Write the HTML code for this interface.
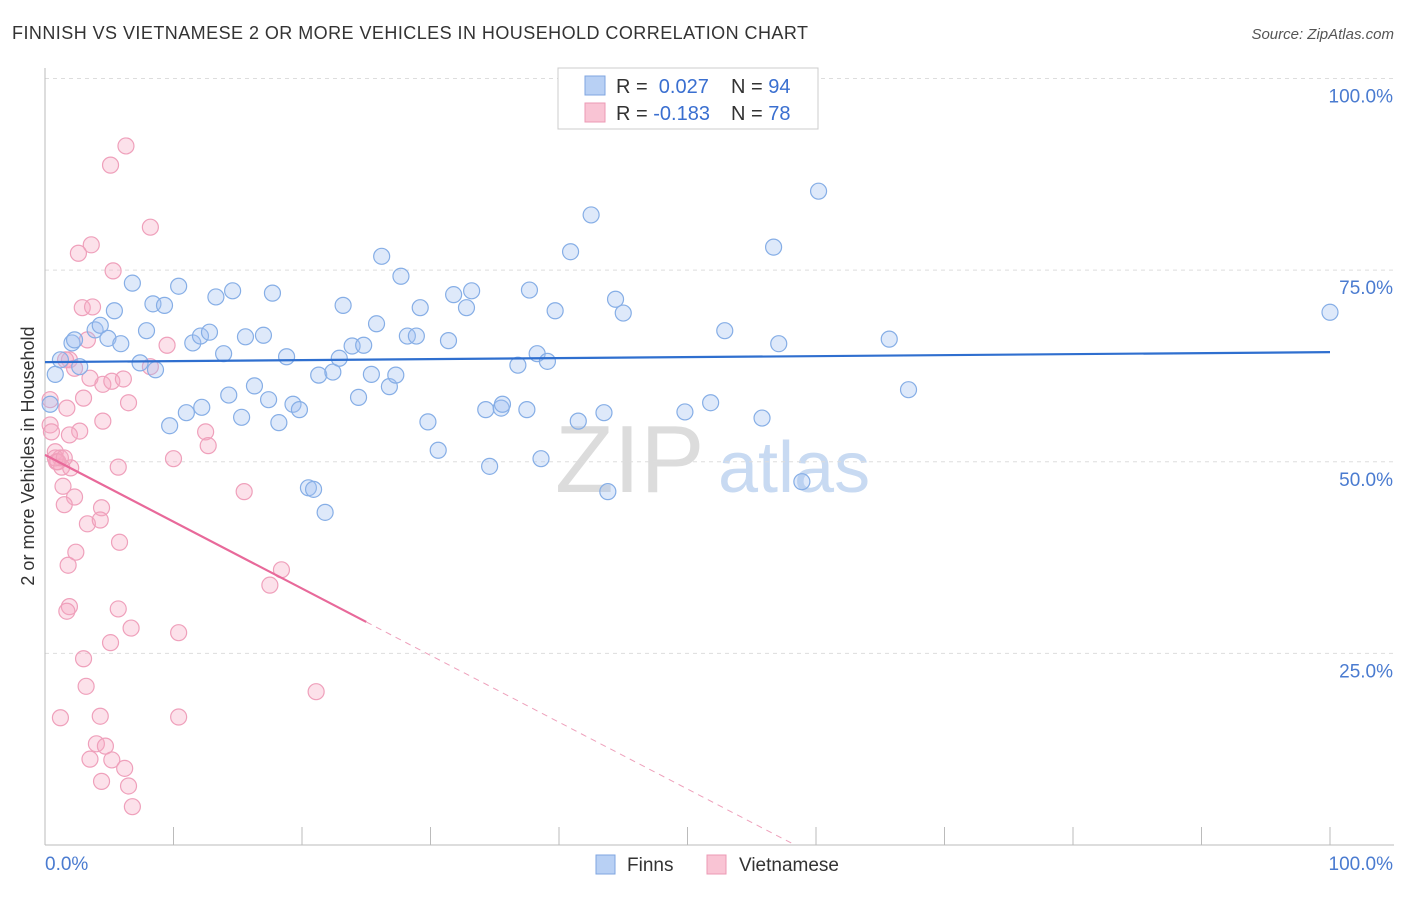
<!DOCTYPE html>
<html><head><meta charset="utf-8"><style>
body{margin:0;background:#fff;font-family:"Liberation Sans",sans-serif;}
svg text{font-family:"Liberation Sans",sans-serif;}
</style></head><body>
<svg id="chart" width="1406" height="892" viewBox="0 0 1406 892" xmlns="http://www.w3.org/2000/svg">
<text x="12" y="39" font-size="18" letter-spacing="0.45" fill="#333">FINNISH VS VIETNAMESE 2 OR MORE VEHICLES IN HOUSEHOLD CORRELATION CHART</text>
<text x="1394" y="39" font-size="15" fill="#555" font-style="italic" text-anchor="end">Source: ZipAtlas.com</text>
<text x="555" y="492" font-size="96" fill="#dcdcdc" font-family="Liberation Serif,serif">ZIP</text>
<text x="718" y="492" font-size="72" fill="#c8daf2">atlas</text>
<g id="grid"></g><g id="axes"></g><g id="pts"></g><g id="trend"></g>
<text transform="translate(34,456) rotate(-90)" font-size="18" fill="#333" text-anchor="middle">2 or more Vehicles in Household</text>
<g>
<rect x="558" y="68" width="260" height="61" fill="#fff" stroke="#ccc"/>
<rect x="585" y="76" width="20" height="19" fill="#b8d0f4" stroke="#7fa6e0"/>
<rect x="585" y="103" width="20" height="19" fill="#f9c4d4" stroke="#ec9ab4"/>
<text x="616" y="93" font-size="20" fill="#333">R = <tspan fill="#3a6fd0">&#160;0.027</tspan><tspan x="731">N = </tspan><tspan fill="#3a6fd0">94</tspan></text>
<text x="616" y="120" font-size="20" fill="#333">R = <tspan fill="#3a6fd0">-0.183</tspan><tspan x="731">N = </tspan><tspan fill="#3a6fd0">78</tspan></text>
</g>
<g>
<rect x="596" y="855" width="19" height="19" fill="#b8d0f4" stroke="#7fa6e0"/>
<text x="627" y="871" font-size="19" fill="#333">Finns</text>
<rect x="707" y="855" width="19" height="19" fill="#f9c4d4" stroke="#ec9ab4"/>
<text x="739" y="871" font-size="19" fill="#333">Vietnamese</text>
</g>
</svg>
<script>
const blueX=[0.8,1.2,2.1,2.3,2.7,3.9,4.3,4.9,5.4,5.9,6.8,7.4,7.9,8.6,8.4,9.3,9.7,10.4,11.0,11.5,12.1,12.2,12.8,13.3,13.9,14.3,14.6,15.3,15.6,16.3,17.0,17.4,17.7,18.2,18.8,19.3,19.8,20.5,20.9,21.8,21.3,22.4,22.9,23.2,23.9,24.4,24.8,25.4,25.8,26.2,26.8,27.3,27.7,28.2,28.9,29.2,29.8,30.6,31.4,31.8,32.8,33.2,34.3,34.6,35.5,35.6,36.8,37.5,37.7,38.3,38.6,39.1,39.7,40.9,41.5,42.5,43.5,43.8,44.4,45.0,49.8,51.8,52.9,55.8,56.7,57.1,58.9,60.2,65.7,67.2,100,0.4];
const blueY=[61.4,63.3,65.5,65.9,62.4,67.2,67.8,66.1,69.7,65.4,73.3,62.9,67.1,62.0,70.6,70.4,54.7,72.9,56.4,65.5,66.4,57.1,66.9,71.5,64.1,58.7,72.3,55.8,66.3,59.9,66.5,58.1,72.0,55.1,63.7,57.5,56.8,46.6,46.4,43.4,61.3,61.7,63.5,70.4,65.1,58.4,65.2,61.4,68.0,76.8,59.8,61.3,74.2,66.4,66.4,70.1,55.2,51.5,65.8,71.8,70.1,72.3,56.8,49.4,57.0,57.5,62.6,56.8,72.4,64.1,50.4,63.1,69.7,77.4,55.3,82.2,56.4,46.1,71.2,69.4,56.5,57.7,67.1,55.7,78.0,65.4,47.4,85.3,66.0,59.4,69.5,57.5];
const pinkX=[6.3,5.1,8.2,3.6,2.6,5.3,2.9,3.7,3.3,1.9,2.3,0.4,1.7,3.0,4.5,5.2,6.1,6.5,8.2,9.5,4.5,0.4,0.5,2.7,1.9,5.7,12.5,12.7,0.8,1.2,0.9,1.3,2.0,1.4,10.0,15.5,2.3,1.5,4.4,3.3,4.3,5.8,2.4,1.8,18.4,17.5,1.9,1.7,5.7,6.7,10.4,5.1,3.0,3.2,21.1,1.2,4.3,10.4,4.0,4.7,3.5,5.2,6.2,4.4,6.5,6.8,0.8,1.0,1.6,3.5,1.5];
const pinkY=[91.2,88.7,80.6,78.3,77.2,74.9,70.1,70.2,65.9,63.3,62.2,58.1,57.0,58.3,60.1,60.5,60.8,57.7,62.4,65.2,55.3,54.8,53.9,54.0,53.5,49.3,53.9,52.1,51.3,50.5,50.0,49.3,49.2,46.8,50.4,46.1,45.4,44.4,44.0,41.9,42.4,39.5,38.2,36.5,35.9,33.9,31.1,30.5,30.8,28.3,27.7,26.4,24.3,20.7,20.0,16.6,16.8,16.7,13.2,12.9,11.2,11.1,10.0,8.3,7.7,5.0,50.5,50.0,63.3,60.9,50.5];
const yTicks=[25,50,75,100];
const yTickLabels=["25.0%","50.0%","75.0%","100.0%"];
const blueTrend=[63.0,64.3];
const pinkTrend=[50.9,29.1];
const pinkSolidEnd=25.0;

const NS="http://www.w3.org/2000/svg";
const X0=45,X1=1330,Y0=845,Y100=78.5;
const sx=v=>X0+(X1-X0)*v/100;
const sy=v=>Y0-(Y0-Y100)*v/100;
function mk(tag,attrs,parent){const e=document.createElementNS(NS,tag);for(const k in attrs)e.setAttribute(k,attrs[k]);parent.appendChild(e);return e;}
const grid=document.getElementById('grid'),axes=document.getElementById('axes'),pts=document.getElementById('pts'),trend=document.getElementById('trend');
yTicks.forEach((t,i)=>{
  const l=mk('line',{x1:X0,x2:1394,y1:sy(t),y2:sy(t),stroke:'#ddd','stroke-dasharray':'4,4'},grid);
  
  
  const tx=mk('text',{x:1393,y:sy(t)+24,'font-size':19,fill:'#4a7bd0','text-anchor':'end'},axes);
  tx.textContent=yTickLabels[i];
  
  
});
const ya=mk('line',{x1:X0,x2:X0,y1:68,y2:Y0,stroke:'#bbb'},axes);


const xa=mk('line',{x1:X0,x2:1394,y1:Y0,y2:Y0,stroke:'#bbb'},axes);


for(let i=0;i<=10;i++){
  const t=mk('line',{x1:sx(i*10),x2:sx(i*10),y1:Y0,y2:Y0-18,stroke:'#bbb'},axes);
  
  
}
const xl0=mk('text',{x:45,y:870,'font-size':19,fill:'#4a7bd0'},axes);xl0.textContent='0.0%';


const xl1=mk('text',{x:1393,y:870,'font-size':19,fill:'#4a7bd0','text-anchor':'end'},axes);xl1.textContent='100.0%';


pinkX.forEach((x,i)=>{
  const c=mk('circle',{cx:sx(x),cy:sy(pinkY[i]),r:8,fill:'rgba(246,170,196,0.35)',stroke:'#efa0bb','stroke-width':1.2},pts);
  
  
});
blueX.forEach((x,i)=>{
  const c=mk('circle',{cx:sx(x),cy:sy(blueY[i]),r:8,fill:'rgba(160,192,242,0.35)',stroke:'#86aee6','stroke-width':1.2},pts);
  
  
});
const bl=mk('line',{x1:sx(0),y1:sy(blueTrend[0]),x2:sx(100),y2:sy(blueTrend[1]),stroke:'#2f6fcf','stroke-width':2.2},trend);


const slope=(pinkTrend[1]-pinkTrend[0])/pinkSolidEnd;
const xZero=-pinkTrend[0]/slope;
const pl=mk('line',{x1:sx(0),y1:sy(pinkTrend[0]),x2:sx(pinkSolidEnd),y2:sy(pinkTrend[1]),stroke:'#e8699a','stroke-width':2.2},trend);


const pd=mk('line',{x1:sx(pinkSolidEnd),y1:sy(pinkTrend[1]),x2:sx(xZero),y2:sy(0),stroke:'#eea0bb','stroke-width':1,'stroke-dasharray':'6,5'},trend);


</script>
</body></html>
